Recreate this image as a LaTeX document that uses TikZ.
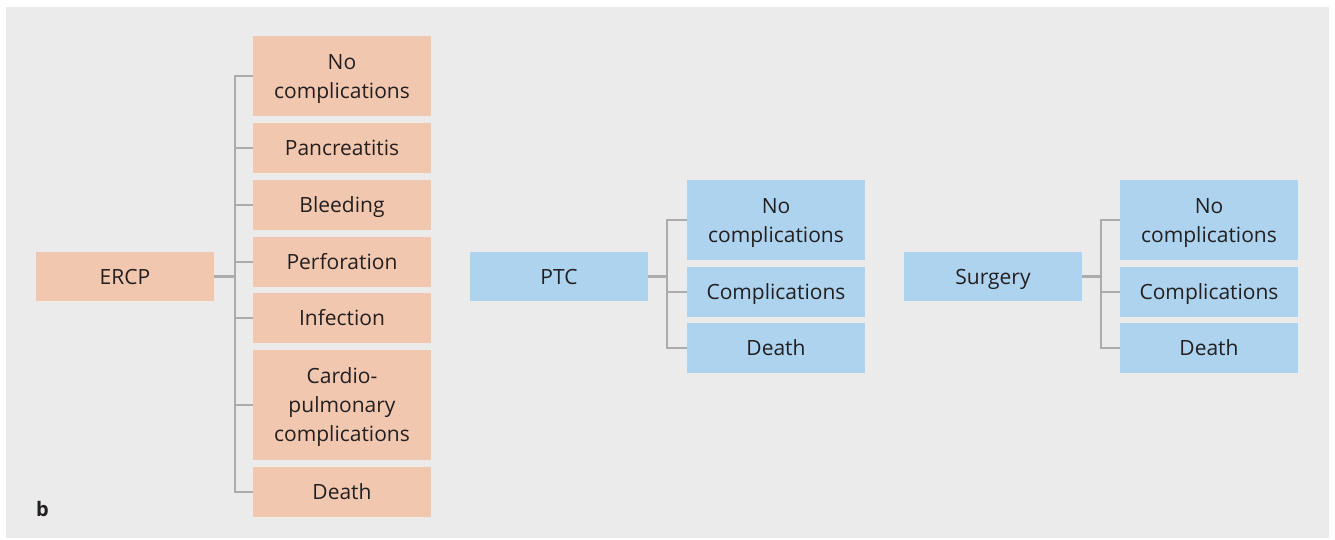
\documentclass[tikz,border=0pt]{standalone}
\usepackage{fontspec}
\setmainfont{Open Sans}
\definecolor{bgc}{HTML}{EAEBEA}
\definecolor{orc}{HTML}{F2C7B0}
\definecolor{blc}{HTML}{ADD3EF}
\definecolor{lnc}{HTML}{A9ABAD}
\definecolor{txc}{HTML}{231F20}
\tikzset{
  box/.style={minimum width=178pt, inner sep=0pt, align=center, text=txc,
    font=\fontsize{21}{29}\selectfont},
  one/.style={text height=15pt, text depth=0pt},
  multi/.style={text depth=0pt},
  obox/.style={box, fill=orc},
  bbox/.style={box, fill=blc},
  link/.style={draw=lnc, line width=2.6pt},
}
\begin{document}
\begin{tikzpicture}[x=1pt,y=-1pt]
\useasboundingbox (0,0) rectangle (1335,539);
\fill[white] (0,0) rectangle (1335,539);
\fill[bgc] (6,7) rectangle (1329,538);

% ERCP group
\node[obox, one, minimum height=49pt] (ercp) at (125,276.5) {ERCP};
\node[obox, multi, minimum height=80pt] (e1) at (342,76) {No\\complications};
\node[obox, one, minimum height=50pt] (e2) at (342,148) {Pancreatitis};
\node[obox, one, minimum height=50pt] (e3) at (342,205) {Bleeding};
\node[obox, one, minimum height=50pt] (e4) at (342,262) {Perforation};
\node[obox, one, minimum height=50pt] (e5) at (342,318) {Infection};
\node[obox, multi, minimum height=110pt] (e6) at (342,405) {Cardio-\\pulmonary\\complications};
\node[obox, one, minimum height=50pt] (e7) at (342,492) {Death};
\coordinate (ej) at (235,276.5);
\draw[link] (ercp.east) -- (ej);
\foreach \c in {e1,e2,e3,e4,e5,e6,e7}{\draw[link] (ej) |- (\c.west);}

% PTC group
\node[bbox, one, minimum height=49pt] (ptc) at (559,276.5) {PTC};
\node[bbox, multi, minimum height=80pt] (p1) at (776,220) {No\\complications};
\node[bbox, one, minimum height=50pt] (p2) at (776,292) {Complications};
\node[bbox, one, minimum height=50pt] (p3) at (776,348) {Death};
\coordinate (pj) at (667,276.5);
\draw[link] (ptc.east) -- (pj);
\foreach \c in {p1,p2,p3}{\draw[link] (pj) |- (\c.west);}

% Surgery group
\node[bbox, one, minimum height=49pt] (sur) at (993,276.5) {Surgery};
\node[bbox, multi, minimum height=80pt] (s1) at (1209,220) {No\\complications};
\node[bbox, one, minimum height=50pt] (s2) at (1209,292) {Complications};
\node[bbox, one, minimum height=50pt] (s3) at (1209,348) {Death};
\coordinate (sj) at (1101,276.5);
\draw[link] (sur.east) -- (sj);
\foreach \c in {s1,s2,s3}{\draw[link] (sj) |- (\c.west);}

\node[anchor=base west, inner sep=0pt, text=txc, font=\fontsize{20}{24}\selectfont\bfseries] (lab) at (36,516) {b};
\end{tikzpicture}
\end{document}
